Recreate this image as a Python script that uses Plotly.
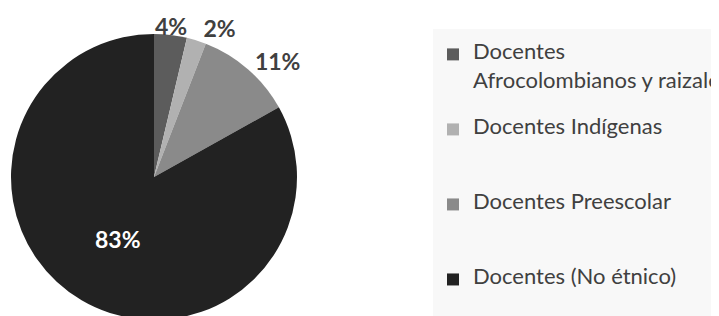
import math
import plotly.graph_objects as go

categories = ["Docentes Afrocolombianos y raizales", "Docentes Indígenas",
              "Docentes Preescolar", "Docentes (No étnico)"]
values = [3.7, 2.2, 11.0, 83.1]
colors = ["#5c5c5c", "#b1b1b1", "#8a8a8a", "#222222"]
# 4% label is drawn as an annotation (plotly would stack it above the 2% label)
text_positions = ["none", "outside", "outside", "inside"]

W, H = 719, 316
# pie geometry in figure pixels (page body adds an 8px offset)
CX, CY, R = 146, 169, 143

LEG_FS = 22          # visible legend text size
BASE_FS = 11.08      # base legend font -> line pitch
pad_lines = [2, 4, 4, 2]


def legend_label(name, extra):
    if name.startswith("Docentes Afro"):
        parts = ["Docentes", "", "Afrocolombianos y raizales"]
    else:
        parts = [name]
    parts = ["<span style='font-size:%dpx'>%s</span>" % (LEG_FS, p) if p else "" for p in parts]
    return "<br>".join(parts + [""] * extra)


legend_labels = [legend_label(c, e) for c, e in zip(categories, pad_lines)]

fig = go.Figure(go.Pie(
    labels=legend_labels,
    values=values,
    sort=False,
    direction="clockwise",
    rotation=0,
    marker=dict(colors=colors, line=dict(width=0)),
    texttemplate="%{percent:.0%}",
    textposition=text_positions,
    insidetextorientation="horizontal",
    insidetextfont=dict(family="Lato", size=23, color="#ffffff", weight="bold"),
    outsidetextfont=dict(family="Lato", size=23, color="#404040", weight="bold"),
    hoverinfo="label+percent",
    domain=dict(x=[(CX - R) / W, (CX + R) / W], y=[(H - CY - R) / H, (H - CY + R) / H]),
))

# label for the first (4%) slice, placed at its mid-angle on the rim
total = sum(values)
theta = 2 * math.pi * (values[0] / 2) / total
ax_px = CX + R * math.sin(theta)
ay_px = CY - R * math.cos(theta)
fig.add_annotation(
    x=ax_px / W, y=1 - ay_px / H, xref="paper", yref="paper",
    text="%.0f%%" % (values[0] / total * 100),
    showarrow=False, xanchor="center", yanchor="bottom", yshift=-7,
    font=dict(family="Lato", size=23, color="#404040", weight="bold"),
)

fig.update_layout(
    width=W, height=H,
    margin=dict(l=0, r=0, t=0, b=0, autoexpand=False),
    paper_bgcolor="#ffffff",
    showlegend=True,
    legend=dict(
        x=425 / W, xanchor="left",
        y=1 - 21 / H, yanchor="top",
        bgcolor="#f8f8f8",
        borderwidth=0,
        valign="top",
        maxheight=H,
        title=dict(text=" ", font=dict(size=9)),
        font=dict(family="Lato", size=BASE_FS, color="#404040"),
        traceorder="normal",
    ),
)

fig.write_html("out.html")
